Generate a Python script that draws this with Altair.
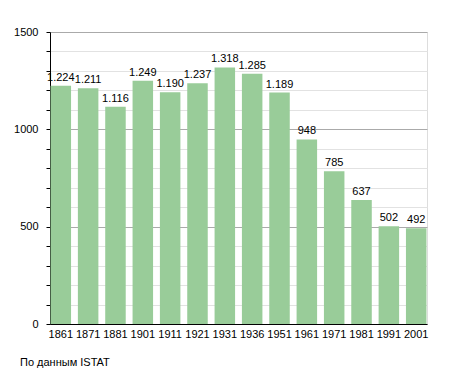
import altair as alt
import pandas as pd

years = ["1861", "1871", "1881", "1901", "1911", "1921", "1931", "1936", "1951", "1961", "1971", "1981", "1991", "2001"]
population = [1224, 1211, 1116, 1249, 1190, 1237, 1318, 1285, 1189, 948, 785, 637, 502, 492]
labels = ["1.224", "1.211", "1.116", "1.249", "1.190", "1.237", "1.318", "1.285", "1.189", "948", "785", "637", "502", "492"]
y_ticks = list(range(0, 1501, 100))
source_note = "По данным  ISTAT"

df = pd.DataFrame({"year": years, "pop": population, "label": labels})

FONT = "Liberation Sans"

x_enc = alt.X("year:N", sort=years,
              scale=alt.Scale(paddingInner=0.25, paddingOuter=0.02),
              axis=alt.Axis(title=None, labelAngle=0, ticks=False, domainColor="black",
                            labelColor="black", labelFont=FONT, labelFontSize=11, labelPadding=4))
y_enc = alt.Y("pop:Q", scale=alt.Scale(domain=[0, 1500], nice=False),
              axis=alt.Axis(title=None, values=y_ticks,
                            labelExpr="datum.value % 500 === 0 ? datum.value : ''",
                            labelOverlap=False, labelFlush=False,
                            grid=True,
                            gridColor={"condition": {"test": "datum.value % 500 === 0", "value": "#aaaaaa"}, "value": "#e2e2e2"},
                            tickColor="black", tickSize=4, domainColor="black",
                            labelColor="black", labelFont=FONT, labelFontSize=11, labelPadding=8))

bars = alt.Chart(df).mark_bar(color="#99cc99").encode(x=x_enc, y=y_enc)
text = alt.Chart(df).mark_text(dy=-8, font=FONT, fontSize=11, color="black").encode(
    x=x_enc, y=y_enc, text="label:N")
note = alt.Chart(pd.DataFrame({"t": [source_note]})).mark_text(
    align="left", baseline="alphabetic", font=FONT, fontSize=11, color="black").encode(
    x=alt.value(-30), y=alt.value(334), text="t:N")

chart = alt.layer(bars, text, note).properties(
    width=377, height=292,
    autosize=alt.AutoSizeParams(type="none"),
    padding={"left": 42, "top": 24, "right": 20, "bottom": 49},
).configure_view(stroke=None).configure(background="white")

chart.save("out.html", embed_options={"renderer": "svg", "actions": False})
